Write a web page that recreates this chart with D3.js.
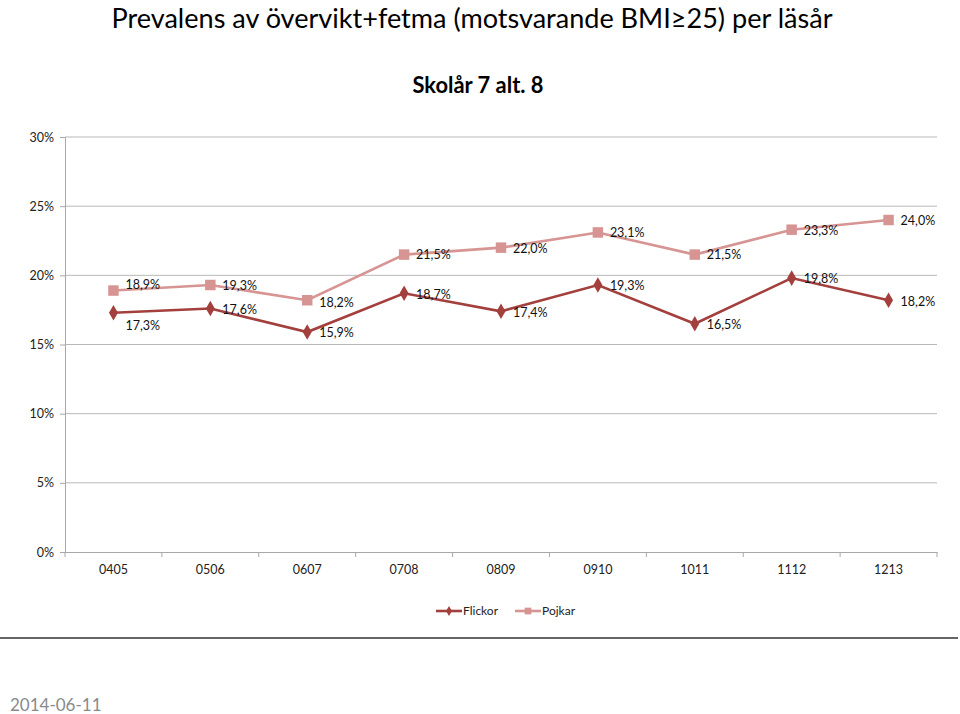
<!DOCTYPE html>
<html><head><meta charset="utf-8">
<script src="https://cdn.jsdelivr.net/npm/d3@7"></script>
<style>body{margin:0;background:#fff}svg{display:block}</style>
</head><body>
<svg id="c" width="960" height="714"></svg>
<script>
const categories = ["0405","0506","0607","0708","0809","0910","1011","1112","1213"];
const flickor = [17.3,17.6,15.9,18.7,17.4,19.3,16.5,19.8,18.2];
const pojkar  = [18.9,19.3,18.2,21.5,22.0,23.1,21.5,23.3,24.0];
const yTicks = [0,5,10,15,20,25,30];
const seriesNames = ["Flickor","Pojkar"];
const colors = {Flickor:"#a3403e", Pojkar:"#d69492"};
const FONT = "Lato, 'Open Sans', sans-serif";

const svg = d3.select("#c");
const L=65,R=937,T=137,B=552;
const x = d3.scaleBand().domain(categories).range([L,R]);
const y = d3.scaleLinear().domain([0,30]).range([B,T]);
const cx = d => x(d)+x.bandwidth()/2;

// Title
svg.append("text").attr("x",472).attr("y",28).attr("text-anchor","middle")
  .attr("font-family",FONT).attr("font-size",27).attr("fill","#000")
  .attr("textLength",721).attr("lengthAdjust","spacingAndGlyphs")
  .text("Prevalens av övervikt+fetma (motsvarande BMI≥25) per läsår");
svg.append("text").attr("x",478).attr("y",93).attr("text-anchor","middle")
  .attr("font-family",FONT).attr("font-size",23).attr("font-weight","bold").attr("fill","#000")
  .attr("textLength",131).attr("lengthAdjust","spacingAndGlyphs")
  .text("Skolår 7 alt. 8");

// gridlines
svg.append("g").selectAll("line").data(yTicks.filter(t=>t>0)).join("line")
  .attr("x1",L).attr("x2",R).attr("y1",d=>y(d)).attr("y2",d=>y(d))
  .attr("stroke","#b8b8b8").attr("stroke-width",1);

// y axis
const yAxis = svg.append("g").attr("transform",`translate(${L},0)`)
  .call(d3.axisLeft(y).tickValues(yTicks).tickSize(5).tickPadding(6).tickFormat(d=>d+"%"));
yAxis.select(".domain").attr("stroke","#a8a8a8");
yAxis.selectAll(".tick line").attr("stroke","#a8a8a8");
yAxis.selectAll("text").attr("font-family",FONT).attr("font-size",12.5).attr("fill","#222");

// x axis
const xAxis = svg.append("g").attr("transform",`translate(0,${B})`)
  .call(d3.axisBottom(x).tickSize(0).tickPadding(13));
xAxis.select(".domain").attr("stroke","#a8a8a8");
xAxis.selectAll("text").attr("font-family",FONT).attr("font-size",12.5).attr("fill","#222");
// tick marks at band boundaries
const bounds = categories.map(c=>x(c)).concat([R]);
svg.append("g").selectAll("line").data(bounds).join("line")
  .attr("x1",d=>d).attr("x2",d=>d).attr("y1",B).attr("y2",B+5)
  .attr("stroke","#a8a8a8");

// lines
const line = d3.line().x((d,i)=>cx(categories[i])).y(d=>y(d));
const diamond = d3.symbol().type(d3.symbolDiamond).size(70);
const square = d3.symbol().type(d3.symbolSquare).size(110);

function drawSeries(vals,name,sym){
  svg.append("path").datum(vals).attr("d",line).attr("fill","none")
    .attr("stroke",colors[name]).attr("stroke-width",2.6);
  svg.append("g").selectAll("path").data(vals).join("path")
    .attr("d",sym).attr("fill",colors[name])
    .attr("transform",(d,i)=>`translate(${cx(categories[i])},${y(d)})`);
}
drawSeries(pojkar,"Pojkar",square);
drawSeries(flickor,"Flickor",diamond);

// data labels
function labels(vals,offsets){
  svg.append("g").selectAll("text").data(vals).join("text")
    .attr("x",(d,i)=>cx(categories[i])+12)
    .attr("y",(d,i)=>y(d)+offsets(i))
    .attr("dy","0.35em")
    .attr("font-family",FONT).attr("font-size",12.5).attr("fill","#111")
    .text(d=>d.toFixed(1).replace(".",",")+"%");
}
labels(flickor,i=> i===0?13:1);
labels(pojkar,i=> i===0?-6:(i===2?2:0.5));

// legend
const lg = svg.append("g");
const legendItems = [{name:"Flickor",x0:436,sym:diamond},{name:"Pojkar",x0:515,sym:square}];
legendItems.forEach(it=>{
  lg.append("line").attr("x1",it.x0).attr("x2",it.x0+26).attr("y1",611).attr("y2",611)
    .attr("stroke",colors[it.name]).attr("stroke-width",2.6);
  lg.append("path").attr("d",it.name==="Flickor"?d3.symbol().type(d3.symbolDiamond).size(30)():d3.symbol().type(d3.symbolSquare).size(45)())
    .attr("fill",colors[it.name]).attr("transform",`translate(${it.x0+13},611)`);
  lg.append("text").attr("x",it.x0+27).attr("y",611).attr("dy","0.35em")
    .attr("font-family",FONT).attr("font-size",12).attr("fill","#222").text(it.name);
});

// bottom rule and date
svg.append("line").attr("x1",0).attr("x2",958).attr("y1",638).attr("y2",638)
  .attr("stroke","#333").attr("stroke-width",1.5);
svg.append("text").attr("x",10).attr("y",711).attr("font-family",FONT)
  .attr("font-size",17).attr("fill","#8a8a8a").text("2014-06-11");
</script>
</body></html>
